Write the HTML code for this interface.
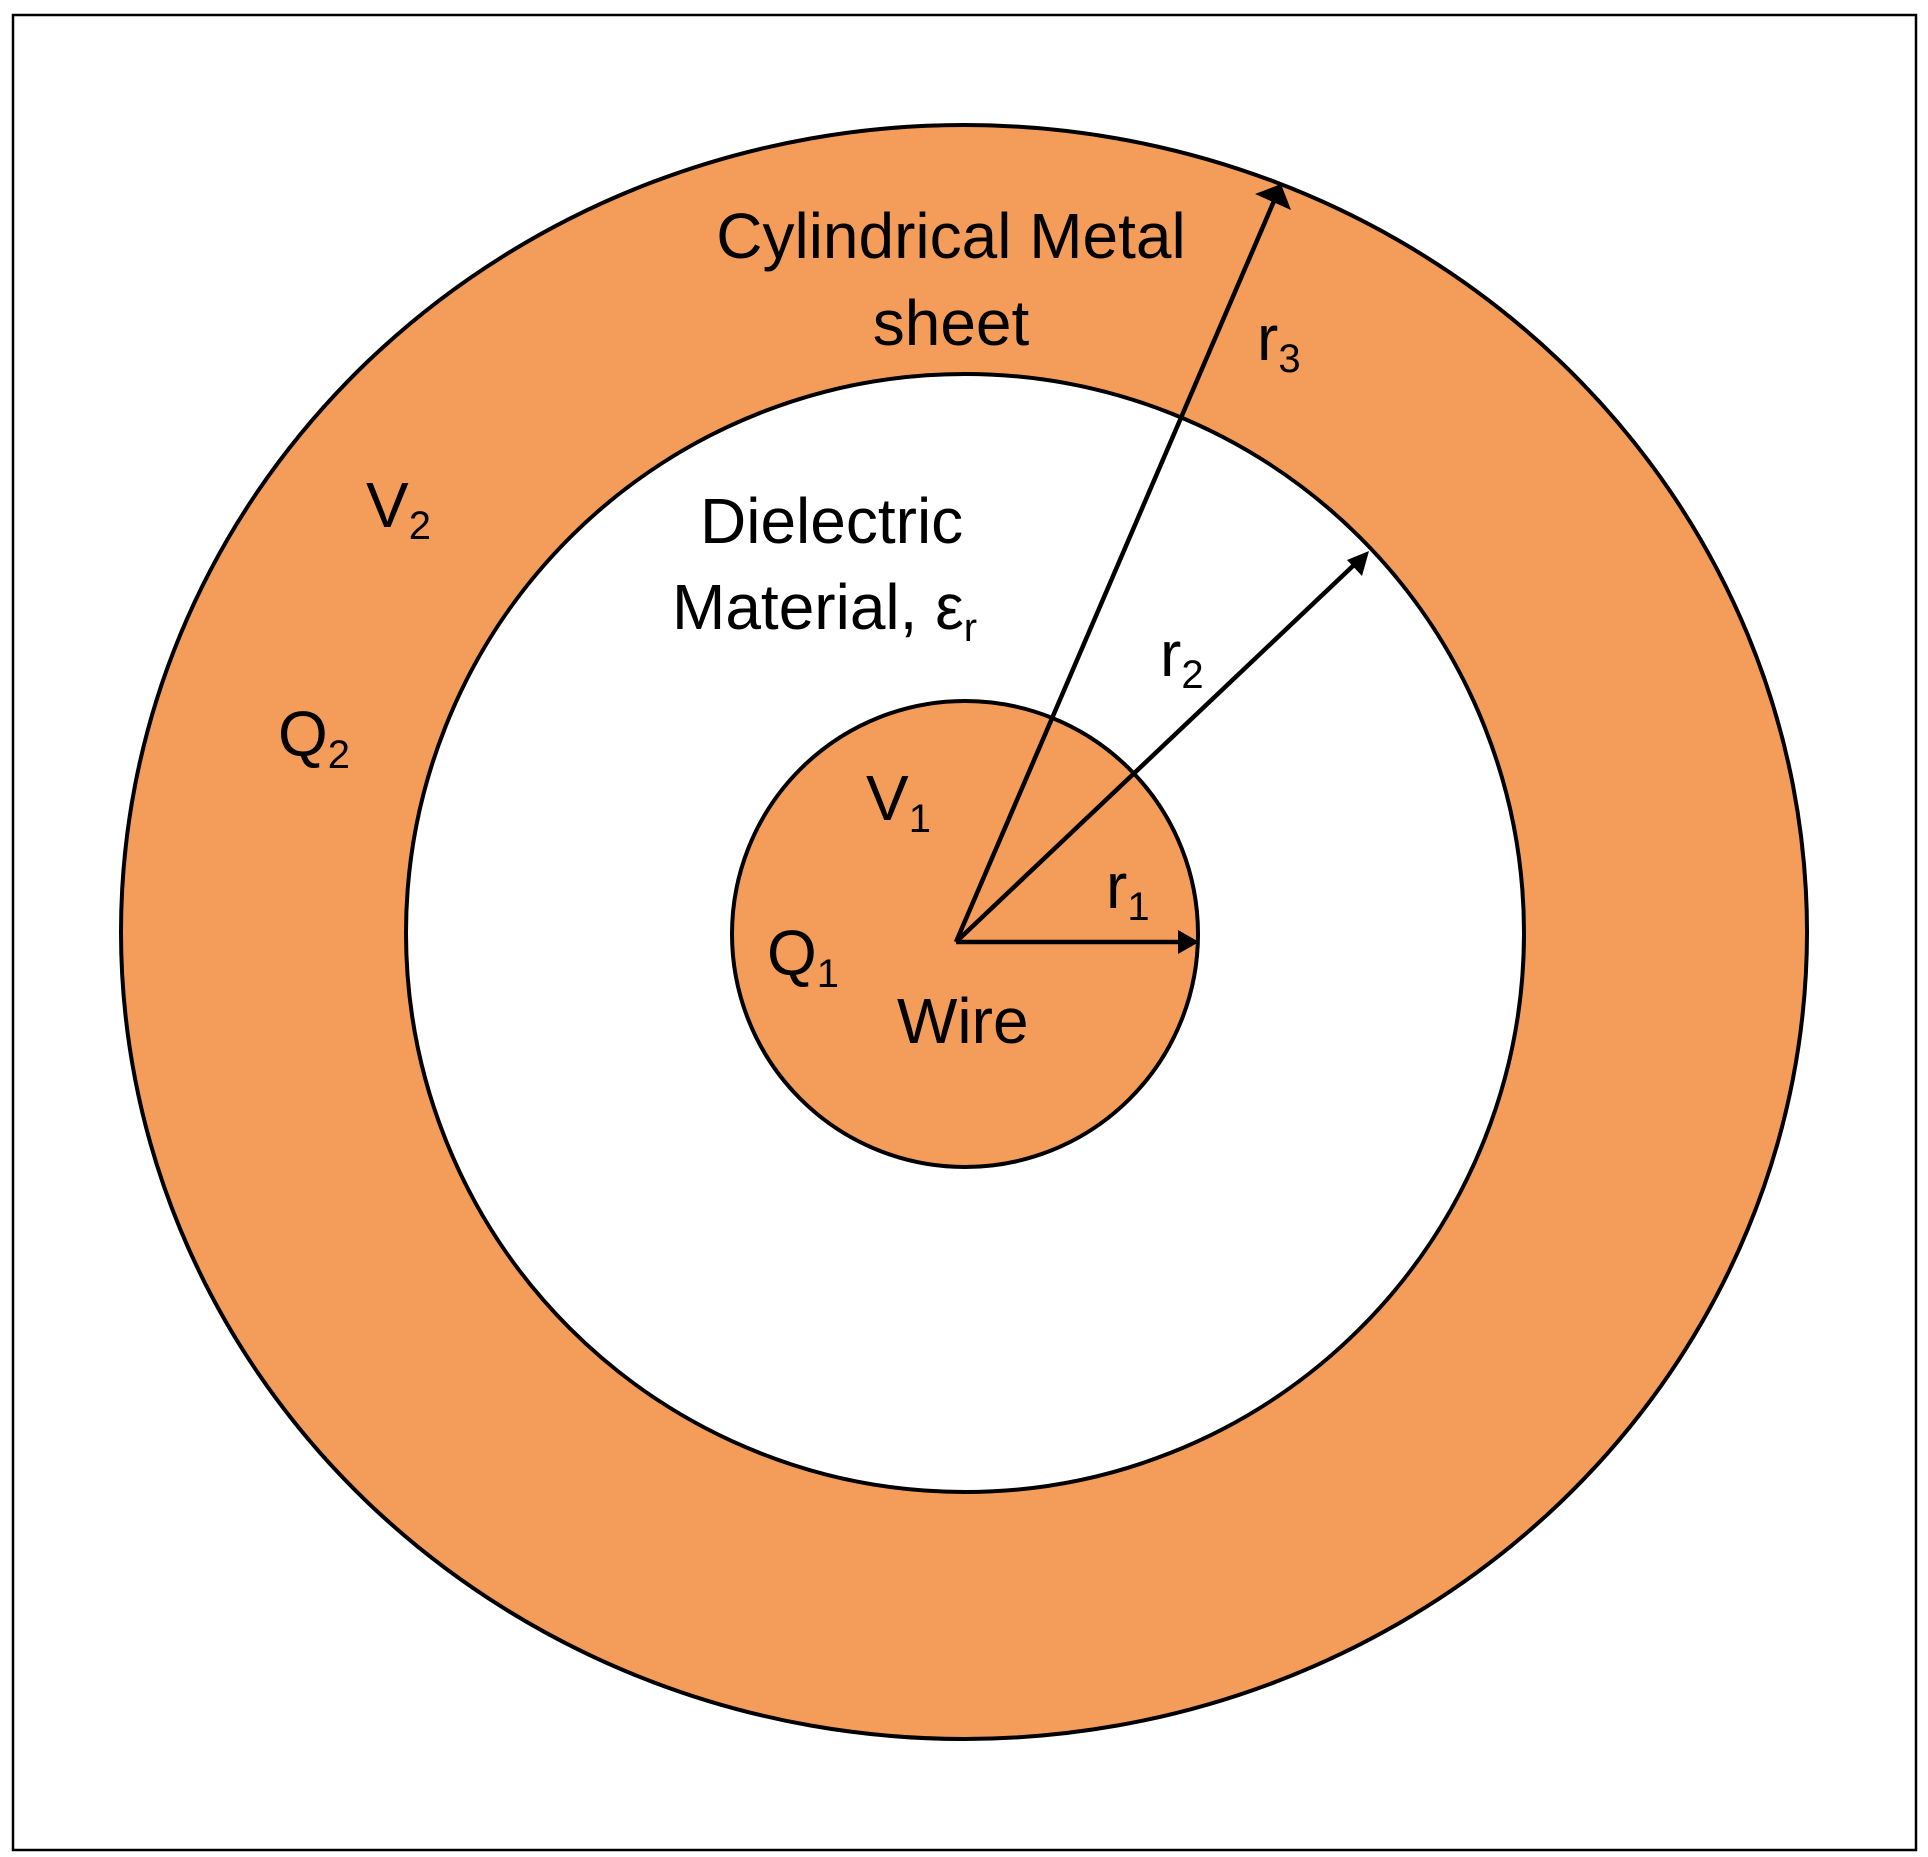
<!DOCTYPE html>
<html><head><meta charset="utf-8"><style>
html,body{margin:0;padding:0;background:#fff;}
svg{display:block;}
text{font-family:"Liberation Sans",sans-serif;fill:#000;}
</style></head><body>
<svg width="1928" height="1857" viewBox="0 0 1928 1857" xmlns="http://www.w3.org/2000/svg">
<rect x="13" y="15" width="1903" height="1835" fill="#fff" stroke="#000" stroke-width="2.5"/>
<ellipse cx="964" cy="932" rx="843" ry="807" fill="#F49D5A" stroke="#000" stroke-width="4"/>
<circle cx="965" cy="933" r="559" fill="#fff" stroke="#000" stroke-width="4"/>
<circle cx="965" cy="934" r="233" fill="#F49D5A" stroke="#000" stroke-width="4"/>
<g stroke="#000" stroke-width="4.5" fill="none">
<line x1="956" y1="942" x2="1183" y2="942"/>
<line x1="956" y1="942" x2="1355" y2="564"/>
<line x1="956" y1="942" x2="1274" y2="201"/>
</g>
<g fill="#000">
<polygon points="1199,942 1178,930 1178,954"/>
<polygon points="1369,551 1347,560 1362,576"/>
<polygon points="1281,184 1255,194 1291,210"/>
</g>
<g font-size="64">
<text x="951" y="258" text-anchor="middle">Cylindrical Metal</text>
<text x="951" y="345" text-anchor="middle">sheet</text>
<text x="700" y="543">Dielectric</text>
<text x="672" y="629">Material, ε<tspan font-size="40" dy="12">r</tspan></text>
<text x="366" y="527">V<tspan font-size="40" dy="12">2</tspan></text>
<text x="278" y="756">Q<tspan font-size="40" dy="12">2</tspan></text>
<text x="866" y="820">V<tspan font-size="40" dy="12">1</tspan></text>
<text x="767" y="975">Q<tspan font-size="40" dy="12">1</tspan></text>
<text x="897" y="1043">Wire</text>
<text x="1106" y="908">r<tspan font-size="40" dy="12">1</tspan></text>
<text x="1160" y="676">r<tspan font-size="40" dy="12">2</tspan></text>
<text x="1257" y="360">r<tspan font-size="40" dy="12">3</tspan></text>
</g>
</svg>
</body></html>
